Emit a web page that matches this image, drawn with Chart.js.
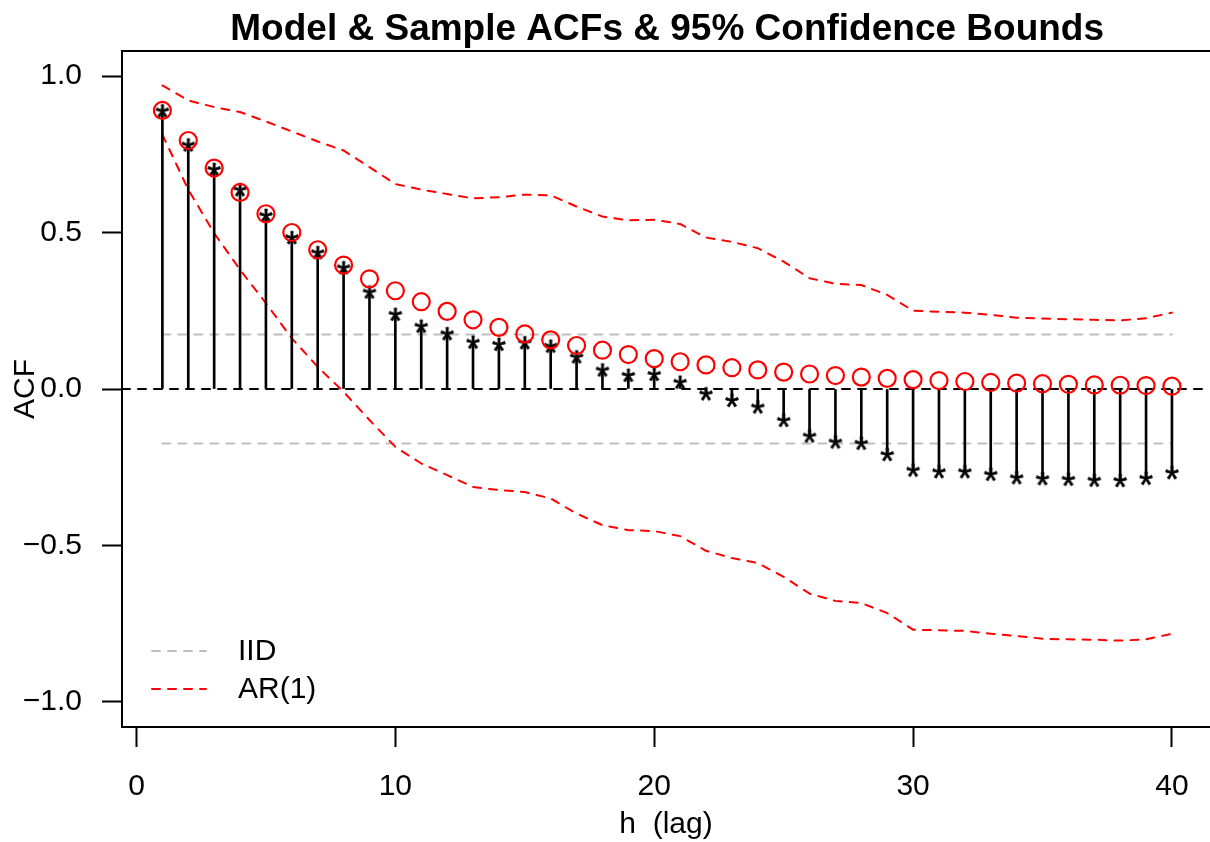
<!DOCTYPE html>
<html>
<head>
<meta charset="utf-8">
<script src="https://cdn.jsdelivr.net/npm/chart.js@4.4.1/dist/chart.umd.min.js"></script>
<style>
  html, body { margin: 0; padding: 0; background: #fff; }
  canvas { display: block; }
</style>
</head>
<body>
<canvas id="acfChart" width="1210" height="842"></canvas>
<script>
// lags 1..40
var lags = [1, 2, 3, 4, 5, 6, 7, 8, 9, 10, 11, 12, 13, 14, 15, 16, 17, 18, 19, 20,
            21, 22, 23, 24, 25, 26, 27, 28, 29, 30, 31, 32, 33, 34, 35, 36, 37, 38, 39, 40];

// model ACF (red circles)
var modelAcf = [0.890, 0.794, 0.706, 0.628, 0.560, 0.500, 0.445, 0.396, 0.352, 0.314,
                0.279, 0.248, 0.221, 0.197, 0.176, 0.157, 0.139, 0.124, 0.110, 0.097,
                0.087, 0.077, 0.068, 0.061, 0.054, 0.048, 0.043, 0.038, 0.034, 0.030,
                0.027, 0.024, 0.021, 0.019, 0.017, 0.015, 0.013, 0.012, 0.011, 0.009];

// sample ACF (stems + stars)
var sampleAcf = [0.887, 0.778, 0.700, 0.635, 0.553, 0.482, 0.434, 0.386, 0.308, 0.237,
                 0.199, 0.175, 0.148, 0.141, 0.146, 0.135, 0.101, 0.059, 0.042, 0.045,
                 0.020, -0.017, -0.038, -0.059, -0.102, -0.152, -0.171, -0.175, -0.211, -0.261,
                 -0.266, -0.266, -0.274, -0.285, -0.288, -0.290, -0.293, -0.294, -0.287, -0.269];

// AR(1) 95% bounds
var arUpper = [0.970, 0.922, 0.901, 0.885, 0.855, 0.823, 0.791, 0.762, 0.709, 0.655,
               0.637, 0.623, 0.609, 0.613, 0.621, 0.619, 0.583, 0.551, 0.539, 0.541,
               0.527, 0.484, 0.470, 0.450, 0.407, 0.354, 0.336, 0.332, 0.301, 0.250,
               0.247, 0.244, 0.237, 0.228, 0.225, 0.223, 0.221, 0.219, 0.226, 0.244];
var arLower = [0.813, 0.637, 0.498, 0.381, 0.274, 0.162, 0.071, -0.009, -0.099, -0.185,
               -0.238, -0.275, -0.313, -0.323, -0.329, -0.350, -0.398, -0.435, -0.451, -0.454,
               -0.470, -0.517, -0.540, -0.556, -0.600, -0.654, -0.677, -0.684, -0.716, -0.769,
               -0.771, -0.773, -0.782, -0.789, -0.798, -0.800, -0.801, -0.804, -0.800, -0.782];

// IID bound (+/-)
var iidBound = 0.174;

var xTicks = [0, 10, 20, 30, 40];
var yTicks = [-1, -0.5, 0, 0.5, 1];
var legendLabels = ["IID", "AR(1)"];

var FONT = "'Liberation Sans', Arial, Helvetica, sans-serif";
var RED = "#FF0000";
var GRAY = "#BEBEBE";

function pts(ys) {
  return lags.map(function (h, i) { return { x: h, y: ys[i] }; });
}

// asterisk marker, like pch="*"
function makeStar() {
  var c = document.createElement("canvas");
  c.width = 20; c.height = 20;
  var g = c.getContext("2d");
  g.font = "36px " + FONT;
  g.fillStyle = "#000";
  g.strokeStyle = "#000";
  g.lineWidth = 0.6;
  var m = g.measureText("*");
  var w = m.actualBoundingBoxRight + m.actualBoundingBoxLeft;
  var hgt = m.actualBoundingBoxAscent + m.actualBoundingBoxDescent;
  g.textBaseline = "alphabetic";
  var tx = 10 - w / 2 + m.actualBoundingBoxLeft, ty = 10 + hgt / 2 - m.actualBoundingBoxDescent;
  g.fillText("*", tx, ty);
  g.strokeText("*", tx, ty);
  return c;
}

var extras = {
  id: "extras",
  beforeDatasetsDraw: function (chart) {
    var ctx = chart.ctx, a = chart.chartArea, y0 = chart.scales.y.getPixelForValue(0);
    ctx.save();
    ctx.strokeStyle = "#000";
    ctx.lineWidth = 2;
    ctx.setLineDash([8, 8]);
    ctx.lineCap = "round";
    ctx.beginPath();
    ctx.moveTo(a.left, y0);
    ctx.lineTo(a.right, y0);
    ctx.stroke();
    ctx.restore();
  },
  afterDraw: function (chart) {
    var ctx = chart.ctx, a = chart.chartArea, xs = chart.scales.x;
    ctx.save();
    // top border
    ctx.strokeStyle = "#000";
    ctx.lineWidth = 2;
    ctx.beginPath();
    ctx.moveTo(a.left, a.top);
    ctx.lineTo(a.right, a.top);
    ctx.stroke();

    // title centred on the full plot region
    var cx = xs.getPixelForValue((lags[0] + lags[lags.length - 1]) / 2);
    ctx.fillStyle = "#000";
    ctx.font = "bold 37px " + FONT;
    ctx.textAlign = "center";
    ctx.textBaseline = "alphabetic";
    ctx.fillText("Model & Sample ACFs & 95% Confidence Bounds", cx, 40);

    // legend, bottom left
    var colors = [GRAY, RED];
    ctx.font = "30px " + FONT;
    ctx.textAlign = "left";
    ctx.textBaseline = "middle";
    legendLabels.forEach(function (lab, i) {
      var ly = a.bottom - 76 + i * 38;
      ctx.strokeStyle = colors[i];
      ctx.lineWidth = 2;
      ctx.setLineDash([8, 8]);
      ctx.lineCap = "round";
      ctx.beginPath();
      ctx.moveTo(a.left + 30, ly);
      ctx.lineTo(a.left + 84, ly);
      ctx.stroke();
      ctx.setLineDash([]);
      ctx.fillStyle = "#000";
      ctx.fillText(lab, a.left + 116, ly + 1);
    });
    ctx.restore();
  }
};

Chart.defaults.font.family = FONT;
Chart.defaults.font.size = 30;
Chart.defaults.color = "#000";

var dashed = { borderWidth: 2, borderDash: [8, 8], borderCapStyle: "round", pointRadius: 0, fill: false, tension: 0 };

new Chart(document.getElementById("acfChart").getContext("2d"), {
  data: {
    datasets: [
      {
        type: "scatter",
        label: "model",
        data: pts(modelAcf),
        pointStyle: "circle",
        pointRadius: 8.5,
        pointBorderWidth: 2.2,
        pointBorderColor: RED,
        pointBackgroundColor: "rgba(0,0,0,0)",
        order: 0
      },
      {
        type: "scatter",
        label: "sample",
        data: pts(sampleAcf),
        pointStyle: makeStar(),
        order: 1
      },
      {
        type: "bar",
        label: "stems",
        data: pts(sampleAcf),
        backgroundColor: "#000",
        borderWidth: 0,
        barThickness: 2,
        order: 2
      },
      Object.assign({ type: "line", label: "AR upper", data: pts(arUpper), borderColor: RED, order: 3 }, dashed),
      Object.assign({ type: "line", label: "AR lower", data: pts(arLower), borderColor: RED, order: 3 }, dashed),
      Object.assign({ type: "line", label: "IID upper", borderColor: GRAY, order: 4,
        data: [{ x: lags[0], y: iidBound }, { x: lags[lags.length - 1], y: iidBound }] }, dashed),
      Object.assign({ type: "line", label: "IID lower", borderColor: GRAY, order: 4,
        data: [{ x: lags[0], y: -iidBound }, { x: lags[lags.length - 1], y: -iidBound }] }, dashed)
    ]
  },
  options: {
    responsive: false,
    animation: false,
    devicePixelRatio: 1,
    layout: { autoPadding: false, padding: { top: 51, left: 0, right: 0, bottom: 0 } },
    plugins: {
      legend: { display: false },
      title: { display: false },
      tooltip: { enabled: false }
    },
    scales: {
      x: {
        type: "linear",
        offset: false,
        min: -0.56,
        max: 41.47,
        afterBuildTicks: function (s) { s.ticks = xTicks.map(function (v) { return { value: v }; }); },
        afterFit: function (s) { s.height = 115; s.paddingLeft = 0; s.paddingRight = 0; },
        grid: { display: true, offset: false, drawOnChartArea: false, drawTicks: true, tickLength: 20, tickWidth: 2, tickColor: "#000" },
        border: { display: true, color: "#000", width: 2 },
        ticks: { padding: 22, maxRotation: 0, autoSkip: false, callback: function (v) { return String(v); } },
        title: { display: true, text: "h  (lag)", padding: { top: 0, bottom: 0 }, font: { size: 30, lineHeight: 1.15 } }
      },
      y: {
        type: "linear",
        min: -1.08,
        max: 1.08,
        afterBuildTicks: function (s) { s.ticks = yTicks.map(function (v) { return { value: v }; }); },
        afterFit: function (s) { s.width = 122; s.paddingTop = 0; s.paddingBottom = 0; },
        grid: { display: true, drawOnChartArea: false, drawTicks: true, tickLength: 20, tickWidth: 2, tickColor: "#000" },
        border: { display: true, color: "#000", width: 2 },
        ticks: {
          padding: 20,
          autoSkip: false,
          callback: function (v) { return (v < 0 ? "\u2212" : "") + Math.abs(v).toFixed(1); }
        },
        title: { display: true, text: "ACF", padding: { top: 8, bottom: 0 }, font: { size: 30 } }
      }
    }
  },
  plugins: [extras]
});
</script>
</body>
</html>
